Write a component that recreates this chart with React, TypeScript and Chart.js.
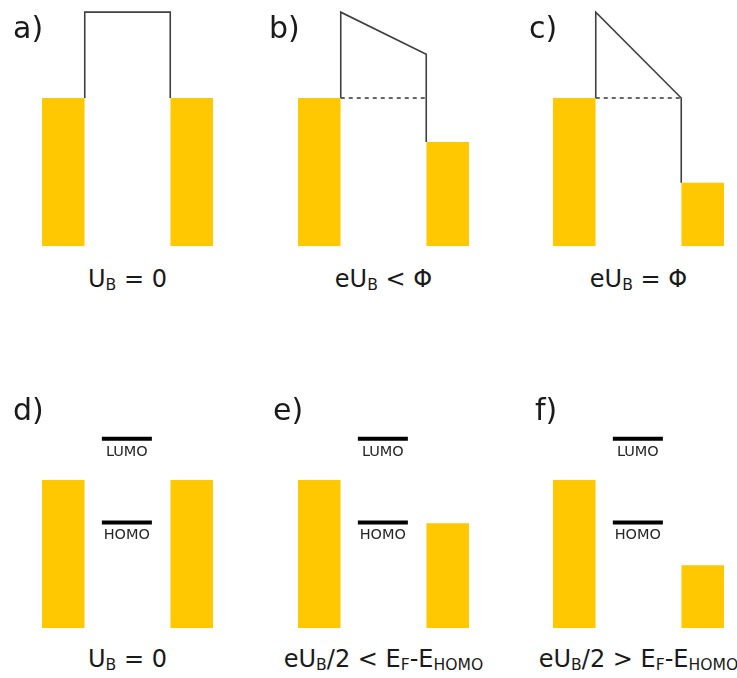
import React, { useEffect, useRef } from "react";
import { Chart, registerables } from "chart.js";

Chart.register(...registerables);

// ---------- data (energy units; bar bottom = 0, left Fermi level = 10) ----------
const panelLetters = ["a)", "b)", "c)", "d)", "e)", "f)"];
// x units: left electrode 0..1, gap 1..3, right electrode 3..4
const leftElectrodeX = [0, 1];
const rightElectrodeX = [3, 4];
const gapX = [1, 3];
const levelX = [1.4, 2.57];

const leftFermi = [10, 10, 10, 10, 10, 10];
const rightFermi = [10, 7.03, 4.28, 10, 7.07, 4.24];
// tunnel barrier (top row only)
const barrierLeftTop = [15.8, 15.8, 15.8];
const barrierRightTop = [15.8, 12.95, 10.0];
const showFermiDash = [false, true, true];
// molecular levels (bottom row only)
const lumoLevel = [12.78, 12.78, 12.78];
const homoLevel = [7.13, 7.13, 7.13];

type Part = { t: string; sub?: boolean };
const captions: Part[][] = [
  [{ t: "U" }, { t: "B", sub: true }, { t: " = 0" }],
  [{ t: "eU" }, { t: "B", sub: true }, { t: " < Φ" }],
  [{ t: "eU" }, { t: "B", sub: true }, { t: " = Φ" }],
  [{ t: "U" }, { t: "B", sub: true }, { t: " = 0" }],
  [{ t: "eU" }, { t: "B", sub: true }, { t: "/2 < E" }, { t: "F", sub: true }, { t: "-E" }, { t: "HOMO", sub: true }],
  [{ t: "eU" }, { t: "B", sub: true }, { t: "/2 > E" }, { t: "F", sub: true }, { t: "-E" }, { t: "HOMO", sub: true }],
];

// ---------- layout (pixels) ----------
const PANEL_LEFT = [42, 298, 553];
const PANEL_W = 171;
const PANEL_H = 244;
const ROW_BASE = [246, 628]; // pixel y of energy 0
const PX_PER_UNIT = 14.8;
const Y_MAX = PANEL_H / PX_PER_UNIT;
const LETTER_X = [13, 269, 529, 13, 273, 535];
const LETTER_BASE = [38, 420];
const CAPTION_BASE = [287, 667];

const BAR_COLOR = "#ffc800";
const LINE_COLOR = "#404040";
const TEXT_COLOR = "#1a1a1a";
const FONT = "'DejaVu Sans', sans-serif";

function rect(x: number[], top: number, color: string) {
  return {
    data: [
      { x: x[0], y: top },
      { x: x[1], y: top },
    ],
    borderWidth: 0,
    pointRadius: 0,
    backgroundColor: color,
    borderColor: color,
    fill: { value: 0 },
    order: 2,
  };
}

function buildDatasets(i: number) {
  const ds: any[] = [];
  ds.push(rect(leftElectrodeX, leftFermi[i], BAR_COLOR));
  ds.push(rect(rightElectrodeX, rightFermi[i], BAR_COLOR));
  if (i < 3) {
    ds.push({
      data: [
        { x: gapX[0], y: leftFermi[i] },
        { x: gapX[0], y: barrierLeftTop[i] },
        { x: gapX[1], y: barrierRightTop[i] },
        { x: gapX[1], y: rightFermi[i] },
      ],
      borderColor: LINE_COLOR,
      borderWidth: 1.6,
      pointRadius: 0,
      fill: false,
      order: 1,
    });
    if (showFermiDash[i]) {
      ds.push({
        data: [
          { x: gapX[0], y: leftFermi[i] },
          { x: gapX[1], y: leftFermi[i] },
        ],
        borderColor: LINE_COLOR,
        borderWidth: 1.6,
        borderDash: [4, 4],
        pointRadius: 0,
        fill: false,
        order: 1,
      });
    }
  } else {
    const j = i - 3;
    [lumoLevel[j], homoLevel[j]].forEach((lv) => {
      ds.push({
        data: [
          { x: levelX[0], y: lv },
          { x: levelX[1], y: lv },
        ],
        borderColor: "#000000",
        borderWidth: 4,
        borderCapStyle: "butt",
        pointRadius: 0,
        fill: false,
        order: 1,
      });
    });
  }
  return ds;
}

function Panel({ index }: { index: number }) {
  const ref = useRef<HTMLCanvasElement | null>(null);
  useEffect(() => {
    if (!ref.current) return;
    const chart = new Chart(ref.current, {
      type: "line",
      data: { datasets: buildDatasets(index) },
      options: {
        responsive: false,
        animation: false,
        devicePixelRatio: 1,
        layout: { padding: 0 },
        events: [],
        plugins: { legend: { display: false }, tooltip: { enabled: false }, title: { display: false } },
        scales: {
          x: { type: "linear", min: 0, max: 4, display: false },
          y: { type: "linear", min: 0, max: Y_MAX, display: false },
        },
        elements: { line: { tension: 0 } },
      },
    });
    return () => chart.destroy();
  }, [index]);
  const row = index < 3 ? 0 : 1;
  const col = index % 3;
  return (
    <canvas
      ref={ref}
      width={PANEL_W}
      height={PANEL_H}
      style={{
        position: "absolute",
        left: PANEL_LEFT[col],
        top: ROW_BASE[row] - PANEL_H,
        width: PANEL_W,
        height: PANEL_H,
        display: "block",
      }}
    />
  );
}

function TextAt({
  x,
  base,
  size,
  center,
  color,
  children,
}: {
  x: number;
  base: number;
  size: number;
  center?: boolean;
  color?: string;
  children: React.ReactNode;
}) {
  return (
    <div
      style={{
        position: "absolute",
        left: x,
        top: base - 0.846 * size,
        fontFamily: FONT,
        fontSize: size,
        lineHeight: `${size}px`,
        color: color || TEXT_COLOR,
        whiteSpace: "nowrap",
        transform: center ? "translateX(-50%)" : undefined,
      }}
    >
      {children}
    </div>
  );
}

function Caption({ parts }: { parts: Part[] }) {
  return (
    <>
      {parts.map((p, k) =>
        p.sub ? (
          <span key={k} style={{ fontSize: "0.65em", verticalAlign: "-0.22em" }}>
            {p.t}
          </span>
        ) : (
          <span key={k}>{p.t}</span>
        )
      )}
    </>
  );
}

export default function App() {
  const levelCenterOffset = ((levelX[0] + levelX[1]) / 2) * (PANEL_W / 4);
  return (
    <div
      style={{
        position: "absolute",
        left: 0,
        top: 0,
        width: 737,
        height: 678,
        background: "#ffffff",
        overflow: "hidden",
      }}
    >
      {panelLetters.map((_, i) => (
        <Panel key={"p" + i} index={i} />
      ))}
      {panelLetters.map((l, i) => (
        <TextAt key={"l" + i} x={LETTER_X[i]} base={LETTER_BASE[i < 3 ? 0 : 1]} size={30}>
          {l}
        </TextAt>
      ))}
      {captions.map((c, i) => (
        <TextAt
          key={"c" + i}
          x={PANEL_LEFT[i % 3] + PANEL_W / 2}
          base={CAPTION_BASE[i < 3 ? 0 : 1]}
          size={24}
          center
        >
          <Caption parts={c} />
        </TextAt>
      ))}
      {[0, 1, 2].map((j) => (
        <React.Fragment key={"m" + j}>
          <TextAt
            x={PANEL_LEFT[j] + levelCenterOffset}
            base={ROW_BASE[1] - lumoLevel[j] * PX_PER_UNIT + 17}
            size={14.5}
            center
            color="#262626"
          >
            LUMO
          </TextAt>
          <TextAt
            x={PANEL_LEFT[j] + levelCenterOffset}
            base={ROW_BASE[1] - homoLevel[j] * PX_PER_UNIT + 17}
            size={14.5}
            center
            color="#262626"
          >
            HOMO
          </TextAt>
        </React.Fragment>
      ))}
    </div>
  );
}
